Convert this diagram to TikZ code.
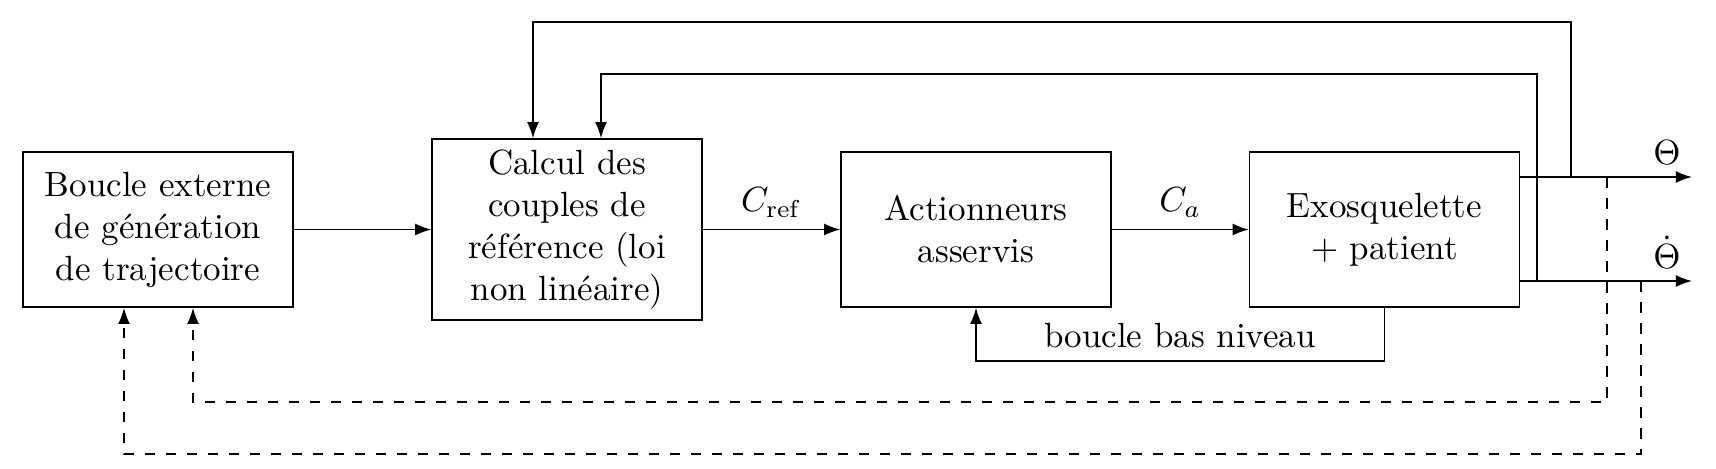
\documentclass[tikz,border=0pt]{standalone}
\usetikzlibrary{arrows.meta,calc}
\begin{document}
\begin{tikzpicture}[x=0.285714pt, y=-0.285714pt,
  blk/.style={draw, line width=0.45pt, minimum width=77.1pt, minimum height=44.3pt, align=center, inner sep=2pt},
  arr/.style={-{Latex[length=4.6pt,width=3.4pt]}, line width=0.45pt},
  fb/.style={arr, dashed}]
\useasboundingbox (0,0) rectangle (1716,468);
\node[blk] (b1) at (158,229.5) {Boucle externe\\de génération\\de trajectoire};
\node[blk, minimum height=51.7pt] (b2) at (567,229.5) {Calcul des\\couples de\\référence (loi\\non linéaire)};
\node[blk] (b3) at (976,229.5) {Actionneurs\\asservis};
\node[blk] (b4) at (1384.5,229.5) {Exosquelette\\+ patient};
\coordinate (th) at (1692,177);
\coordinate (thd) at (1692,281);
\coordinate (j1) at (1571,177);
\coordinate (j2) at (1537,281);
\coordinate (j3) at (1607,177);
\coordinate (j4) at (1641,281);
\draw[arr] (b1) -- (b2);
\draw[arr] (b2) -- node[above] (lcref) {$C_{\mathrm{ref}}$} (b3);
\draw[arr] (b3) -- node[above] (lca) {$C_a$} (b4);
\draw[arr] (b4.east |- th) -- (th);
\draw[arr] (b4.east |- thd) -- (thd);
\node[above] (lth) at (1667,177) {$\Theta$};
\node[above] (lthd) at (1667,281) {$\dot\Theta$};
\draw[arr] (j1) |- (533,22) -- ($(b2.north)+(-34,0)$);
\draw[arr] (j2) |- (601,74) -- ($(b2.north)+(34,0)$);
\draw[fb] (j3) |- (193,402) -- ($(b1.south)+(35,0)$);
\draw[fb] (j4) |- (124,454) -- ($(b1.south)+(-34,0)$);
\draw[arr] (b4.south) -- ++(0,53) -| (b3.south);
\node[above] (lbas) at (1180,360) {boucle bas niveau};
\end{tikzpicture}
\end{document}
